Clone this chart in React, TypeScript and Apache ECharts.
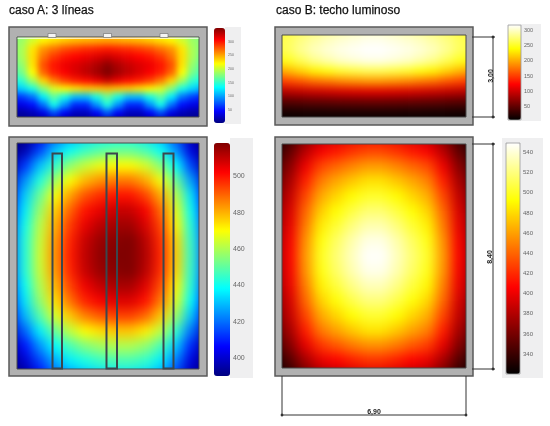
import React, { useEffect, useRef } from "react";
import * as echarts from "echarts";

const JET = ["#000080", "#0000ff", "#0080ff", "#00ffff", "#80ff80", "#ffff00", "#ff8000", "#ff0000", "#800000"];
const HOT = ["#000000", "#550000", "#aa0000", "#ff0000", "#ff5500", "#ffaa00", "#ffff00", "#ffff80", "#ffffff"];

const titles = ["caso A: 3 líneas", "caso B: techo luminoso"];
const dimensionLabels = ["3,00", "8,40", "6,90"];

const ticksATop = [50, 100, 150, 200, 250, 300];
const ticksABottom = [400, 420, 440, 460, 480, 500];
const ticksBTop = [50, 100, 150, 200, 250, 300];
const ticksBBottom = [340, 360, 380, 400, 420, 440, 460, 480, 500, 520, 540];

const valuesATop = [
  [170,178,195,210,218,226,232,236,240,243,240,236,232,226,218,210,195,178,170],
  [176,186,205,222,230,238,243,246,248,250,248,246,243,238,230,222,205,186,176],
  [172,190,228,256,268,280,286,292,295,298,295,292,286,280,268,256,228,190,172],
  [165,190,230,268,288,300,306,312,318,324,318,312,306,300,288,268,230,190,165],
  [158,182,228,280,300,312,318,325,334,345,334,325,318,312,300,280,228,182,158],
  [150,172,218,272,296,308,318,328,338,350,338,328,318,308,296,272,218,172,150],
  [132,150,188,234,264,284,296,303,313,324,313,303,296,284,264,234,188,150,132],
  [100,118,140,178,208,222,228,236,240,244,240,236,228,222,208,178,140,118,100],
  [52,66,84,128,164,140,112,112,140,168,140,112,112,140,164,128,84,66,52],
  [28,38,50,84,138,96,58,58,96,142,96,58,58,96,138,84,50,38,28],
  [12,14,22,38,70,44,24,24,44,74,44,24,24,44,70,38,22,14,12],
  [5,5,7,10,18,10,7,7,10,20,10,7,7,10,18,10,7,5,5],
];

const valuesABottom = [
  [390,390,402,416,426,432,436,438,438,434,428,414,396,390],
  [390,396,414,430,439,445,449,451,451,447,439,424,402,390],
  [392,412,430,444,456,463,468,470,470,465,455,438,414,392],
  [400,424,442,458,470,479,484,487,487,481,469,451,426,400],
  [406,432,451,469,482,492,497,500,500,494,481,461,435,406],
  [410,436,457,476,490,500,505,509,509,503,489,467,439,410],
  [413,440,461,480,495,505,511,514,514,507,494,471,442,413],
  [415,442,463,483,498,509,515,517,518,511,497,475,444,415],
  [415,442,464,484,499,510,516,518,518,512,498,476,445,415],
  [415,442,463,483,498,509,515,517,518,511,497,475,444,415],
  [413,439,460,479,494,504,510,513,513,506,493,471,442,413],
  [410,435,456,474,488,498,503,506,506,500,487,466,438,410],
  [405,429,448,465,477,486,491,494,494,489,477,457,431,405],
  [398,418,436,451,462,470,474,477,477,472,462,444,420,398],
  [392,408,424,438,447,454,458,460,460,456,447,431,410,392],
  [390,400,414,427,436,441,445,447,447,444,436,421,402,390],
  [390,392,405,417,424,429,432,434,434,432,426,412,395,390],
];

const valuesBTop = [
  [250,258,268,276,284,290,296,300,300,296,290,284,276,268,258,250],
  [258,268,280,290,298,304,308,312,312,308,304,298,290,280,268,258],
  [255,268,284,297,305,311,315,318,318,315,311,305,297,284,268,255],
  [236,250,266,282,292,301,306,310,310,306,301,292,282,266,250,236],
  [192,206,220,234,244,254,260,265,265,260,254,244,234,220,206,192],
  [142,152,160,170,176,183,187,190,190,187,183,176,170,160,152,142],
  [84,88,92,96,99,102,104,105,105,104,102,99,96,92,88,84],
  [40,41,43,45,46,48,49,50,50,49,48,46,45,43,41,40],
  [12,12,13,13,14,14,15,15,15,15,14,14,13,13,12,12],
  [3,3,3,3,3,3,3,3,3,3,3,3,3,3,3,3],
];

const valuesBBottom = [
  [325,338,363,381,389,396,401,401,396,389,382,363,338,325],
  [332,353,382,403,413,422,429,429,422,413,404,382,353,332],
  [342,366,400,428,440,450,458,458,450,440,430,400,366,342],
  [350,377,416,447,462,473,482,482,473,462,449,416,377,350],
  [356,386,429,462,478,491,501,501,491,478,464,429,386,356],
  [362,393,440,475,492,506,517,517,506,492,477,440,393,362],
  [366,398,447,485,503,519,531,531,519,503,487,447,398,366],
  [370,403,454,494,513,530,543,543,530,513,496,454,403,370],
  [371,405,457,498,517,534,548,548,534,517,500,457,405,371],
  [370,403,455,495,514,531,544,544,531,514,497,455,403,370],
  [367,399,448,487,505,521,533,533,521,505,489,448,399,367],
  [362,392,440,476,493,508,519,519,508,493,478,440,392,362],
  [356,386,428,462,478,492,502,502,492,478,464,428,386,356],
  [350,376,415,446,460,473,483,483,473,460,448,415,376,350],
  [340,364,397,423,435,446,454,454,446,435,425,397,364,340],
  [328,349,376,397,406,415,422,422,415,406,398,376,349,328],
  [323,334,357,374,381,387,393,393,387,381,375,357,334,323],
];

type Panel = {
  values: number[][]; colors: string[]; min: number; max: number;
  inner: [number, number, number, number]; blur: number;
};

const panels: Panel[] = [
  { values: valuesATop, colors: JET, min: 2, max: 350, inner: [17, 37, 199, 117], blur: 3 },
  { values: valuesABottom, colors: JET, min: 390, max: 518, inner: [17, 143, 199, 369], blur: 6 },
  { values: valuesBTop, colors: HOT, min: 2, max: 318, inner: [282, 35, 466, 117], blur: 4 },
  { values: valuesBBottom, colors: HOT, min: 320, max: 549, inner: [282, 144, 466, 368], blur: 6 },
];

function heatOption(p: Panel) {
  const data: number[][] = [];
  p.values.forEach((row, r) => row.forEach((v, c) => data.push([c, r, v])));
  return {
    animation: false,
    grid: { left: 0, top: 0, right: 0, bottom: 0 },
    xAxis: { type: "category", show: false, data: p.values[0].map((_, i) => i) },
    yAxis: { type: "category", show: false, inverse: true, data: p.values.map((_, i) => i) },
    visualMap: { show: false, min: p.min, max: p.max, dimension: 2, inRange: { color: p.colors } },
    series: [{ type: "heatmap", data, silent: true }],
  };
}

const FRAME = "#b1b1b1";
const EDGE = "#4a4a4a";
const BG = "#efeff0";

function frame(o: number[], i: number[]) {
  const [x0, y0, x1, y1] = o;
  const [a, b, c, d] = i;
  const bar = (x: number, y: number, w: number, h: number) => ({
    type: "rect", shape: { x, y, width: w, height: h }, style: { fill: FRAME }, silent: true,
  });
  return [
    bar(x0, y0, x1 - x0, b - y0), bar(x0, d, x1 - x0, y1 - d),
    bar(x0, b, a - x0, d - b), bar(c, b, x1 - c, d - b),
    { type: "rect", shape: { x: x0, y: y0, width: x1 - x0, height: y1 - y0 }, style: { fill: "none", stroke: "#5a5a5a", lineWidth: 1.5 }, silent: true },
    { type: "rect", shape: { x: a, y: b, width: c - a, height: d - b }, style: { fill: "none", stroke: EDGE, lineWidth: 1 }, silent: true },
  ];
}

const seg = (x1: number, y1: number, x2: number, y2: number) => ({
  type: "line", shape: { x1, y1, x2, y2 }, style: { stroke: "#333", lineWidth: 1 }, silent: true,
});
const dot = (cx: number, cy: number) => ({
  type: "circle", shape: { cx, cy, r: 1.4 }, style: { fill: "#333" }, silent: true,
});
const lamp = (x: number, y: number, w: number, h: number) => ({
  type: "rect", shape: { x, y, width: w, height: h }, style: { fill: "none", stroke: "#3b474d", lineWidth: 2 }, silent: true,
});
const notch = (x: number) => ({
  type: "rect", shape: { x, y: 33.5, width: 8, height: 4 }, style: { fill: "#f4f4f4", stroke: "#777", lineWidth: 0.7 }, silent: true,
});
const bg = (x: number, y: number, w: number, h: number) => ({
  type: "rect", shape: { x, y, width: w, height: h }, style: { fill: BG }, silent: true,
});
const dimText = (text: string, x: number, y: number, rotation: number) => ({
  type: "text", x, y, rotation,
  style: { text, fontSize: 7, fontWeight: "bold", fontFamily: "Liberation Sans", fill: "#222", align: "center", verticalAlign: "middle" },
  silent: true,
});

const bars = [
  { x: 214, y: 28, w: 11, h: 95, min: 2, max: 350, colors: JET, ticks: ticksATop, font: 3.5, margin: 3 },
  { x: 214, y: 143, w: 16, h: 233, min: 390, max: 518, colors: JET, ticks: ticksABottom, font: 7, margin: 3 },
  { x: 508, y: 25, w: 13, h: 95, min: 2, max: 318, colors: HOT, ticks: ticksBTop, font: 5.5, margin: 3 },
  { x: 506, y: 143, w: 14, h: 231, min: 320, max: 549, colors: HOT, ticks: ticksBBottom, font: 6, margin: 3 },
];

const titleStyle = {
  fontSize: 12, fontWeight: "normal", fontFamily: "Liberation Sans", color: "#111",
  textBorderColor: "#111", textBorderWidth: 0.25,
};

function overlayOption() {
  return {
    animation: false,
    backgroundColor: "transparent",
    title: [
      { text: titles[0], left: 9, top: 4, padding: 0, textStyle: titleStyle },
      { text: titles[1], left: 276, top: 4, padding: 0, textStyle: titleStyle },
    ],
    grid: bars.map((b) => ({ left: b.x, top: b.y, width: b.w, height: b.h, z: 5 })),
    xAxis: bars.map((_, i) => ({ type: "value", gridIndex: i, show: false, min: 0, max: 1 })),
    yAxis: bars.map((b, i) => ({
      type: "value", gridIndex: i, position: "right", min: b.min, max: b.max, splitLine: { show: false },
      axisLine: { show: false },
      axisTick: { show: true, inside: false, length: 2, lineStyle: { color: "#888", width: 0.5 }, customValues: b.ticks },
      axisLabel: { show: true, fontSize: b.font, color: "#666", margin: b.margin, fontFamily: "Liberation Sans", customValues: b.ticks },
    })),
    visualMap: bars.map((b) => ({
      type: "continuous", show: true, seriesIndex: [], min: b.min, max: b.max, left: b.x, top: b.y,
      itemWidth: b.w, itemHeight: b.h, padding: 0, calculable: false, realtime: false, text: ["", ""], textGap: 0,
      inRange: { color: b.colors }, hoverLink: false,
    })),
    series: [],
    graphic: {
      elements: [
        bg(225, 27, 16, 97), bg(230, 138, 23, 240), bg(521, 24, 20, 97), bg(502, 138, 41, 240),
        { type: "rect", shape: { x: 508, y: 25, width: 13, height: 95 }, style: { fill: "none", stroke: "#999", lineWidth: 0.8 }, silent: true, z: 50 },
        { type: "rect", shape: { x: 506, y: 143, width: 14, height: 231 }, style: { fill: "none", stroke: "#999", lineWidth: 0.8 }, silent: true, z: 50 },
        ...frame([9, 27, 207, 126], [17, 37, 199, 117]),
        ...frame([9, 137, 207, 376], [17, 143, 199, 369]),
        ...frame([275, 27, 473, 125], [282, 35, 466, 117]),
        ...frame([275, 137, 473, 376], [282, 144, 466, 368]),
        { type: "rect", shape: { x: 17.5, y: 37.5, width: 181, height: 1.5 }, style: { fill: "#ffffff", opacity: 0.7 }, silent: true },
        notch(48), notch(103.5), notch(160),
        lamp(52.5, 153.5, 9.5, 215), lamp(106.5, 153.5, 10.5, 215), lamp(163.5, 153.5, 10, 215),
        seg(472, 37, 495, 37), seg(472, 117, 495, 117), seg(493, 37, 493, 117), dot(493, 37), dot(493, 117),
        seg(472, 144, 495, 144), seg(472, 369, 495, 369), seg(493, 144, 493, 369), dot(493, 144), dot(493, 369),
        seg(282, 376, 282, 416), seg(466, 376, 466, 416), seg(282, 415, 467, 415), dot(282, 415), dot(466, 415),
        dimText(dimensionLabels[0], 490, 76, Math.PI / 2),
        dimText(dimensionLabels[1], 489, 257, Math.PI / 2),
        dimText(dimensionLabels[2], 374, 411, 0),
      ],
    },
  };
}

export default function App() {
  const heatRefs = useRef<(HTMLDivElement | null)[]>([]);
  const overlayRef = useRef<HTMLDivElement | null>(null);

  useEffect(() => {
    document.body.style.margin = "0";
    document.body.style.background = "#ffffff";
    const charts = panels.map((p, i) => {
      const c = echarts.init(heatRefs.current[i]!, undefined, { renderer: "svg" });
      c.setOption(heatOption(p));
      return c;
    });
    const overlay = echarts.init(overlayRef.current!, undefined, { renderer: "svg" });
    overlay.setOption(overlayOption());
    return () => {
      charts.forEach((c) => c.dispose());
      overlay.dispose();
    };
  }, []);

  return (
    <div style={{ position: "relative", width: 550, height: 426, overflow: "hidden", background: "#fff" }}>
      {panels.map((p, i) => {
        const [x0, y0, x1, y1] = p.inner;
        const rows = p.values.length;
        const cols = p.values[0].length;
        const cw = (x1 - x0) / (cols - 2);
        const ch = (y1 - y0) / (rows - 2);
        return (
          <div key={i} style={{ position: "absolute", left: x0, top: y0, width: x1 - x0, height: y1 - y0, overflow: "hidden" }}>
            <div
              ref={(el) => { heatRefs.current[i] = el; }}
              style={{ position: "absolute", left: -cw, top: -ch, width: cw * cols, height: ch * rows, filter: `blur(${p.blur}px)` }}
            />
          </div>
        );
      })}
      <div ref={overlayRef} style={{ position: "absolute", left: 0, top: 0, width: 550, height: 426, filter: "blur(0.4px)" }} />
    </div>
  );
}
